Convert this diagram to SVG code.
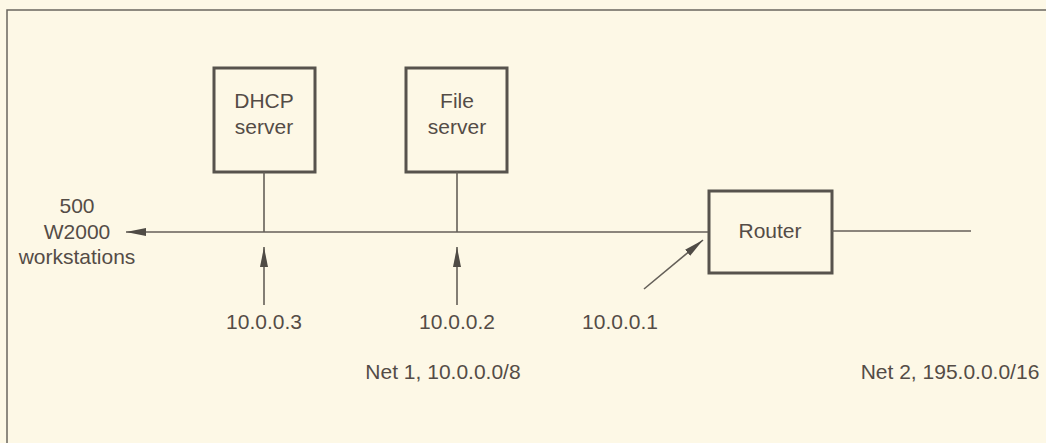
<svg xmlns="http://www.w3.org/2000/svg" width="1046" height="443" viewBox="0 0 1046 443">
<style>
text{font-family:"Liberation Sans",Arial,sans-serif;font-size:21px;fill:#544c46;text-anchor:middle}
.box{fill:none;stroke:#57534d;stroke-width:3}
.ln{stroke:#645f58;stroke-width:1.6;fill:none}
.frame{stroke:#6a665f;stroke-width:1.5;fill:none}
</style>
<defs>
<marker id="ah" viewBox="0 0 20 8" refX="20" refY="4" markerWidth="20" markerHeight="8" markerUnits="userSpaceOnUse" orient="auto">
<path d="M0,0 L20,4 L0,8 Z" fill="#4f4b45"/>
</marker>
</defs>
<rect width="1046" height="443" fill="#fdf8e6"/>
<path class="frame" d="M7,443 V10 H1046"/>
<g id="dhcp">
<rect class="box" x="214" y="68" width="101" height="104"/>
<text x="264" y="108">DHCP</text>
<text x="264" y="134">server</text>
</g>
<g id="fileserver">
<rect class="box" x="406" y="68" width="101" height="104"/>
<text x="457" y="108">File</text>
<text x="457" y="134">server</text>
</g>
<g id="router">
<rect class="box" x="709" y="191" width="123" height="82"/>
<text x="770" y="238">Router</text>
</g>
<g id="workstations">
<text x="77" y="213">500</text>
<text x="77" y="239">W2000</text>
<text x="77" y="264">workstations</text>
</g>
<g id="labels">
<text x="264" y="329">10.0.0.3</text>
<text x="457" y="329">10.0.0.2</text>
<text x="620" y="329">10.0.0.1</text>
<text x="443" y="379">Net 1, 10.0.0.0/8</text>
<text x="950" y="379">Net 2, 195.0.0.0/16</text>
</g>
<g id="connectors">
<line class="ln" x1="708" y1="232" x2="126" y2="232" marker-end="url(#ah)"/>
<line class="ln" x1="832" y1="231" x2="971" y2="231"/>
<line class="ln" x1="264" y1="172" x2="264" y2="232"/>
<line class="ln" x1="457" y1="172" x2="457" y2="232"/>
<line class="ln" x1="264" y1="305" x2="264" y2="247" marker-end="url(#ah)"/>
<line class="ln" x1="457" y1="305" x2="457" y2="247" marker-end="url(#ah)"/>
<line class="ln" x1="644" y1="289" x2="703" y2="240" marker-end="url(#ah)"/>
</g>
</svg>
